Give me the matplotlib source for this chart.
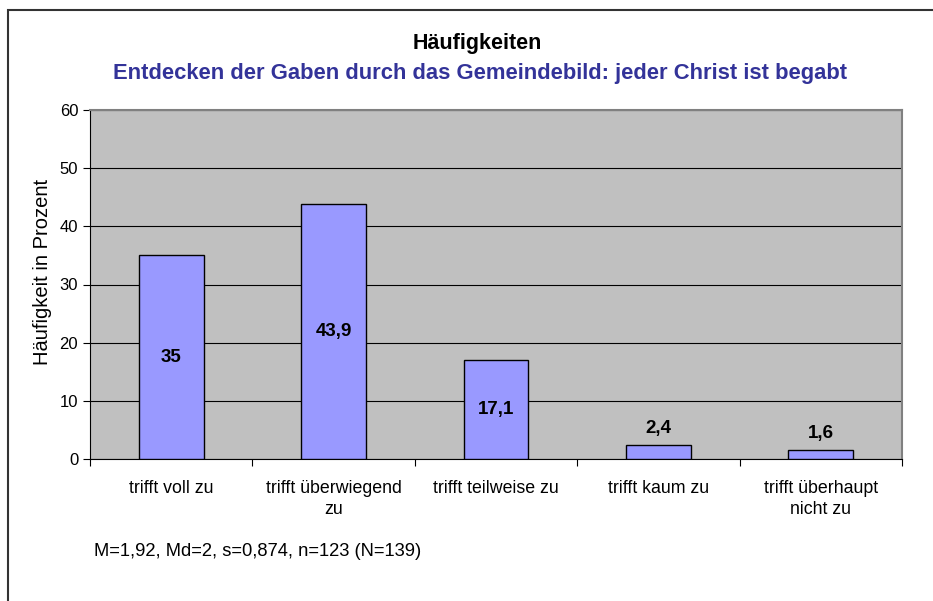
import matplotlib.pyplot as plt
from matplotlib.patches import Rectangle

plt.rcParams['font.family'] = ['Liberation Sans', 'DejaVu Sans']

# data
kategorien = ['trifft voll zu', 'trifft überwiegend\nzu', 'trifft teilweise zu',
              'trifft kaum zu', 'trifft überhaupt\nnicht zu']
prozent = [35, 43.9, 17.1, 2.4, 1.6]
beschriftung = ['35', '43,9', '17,1', '2,4', '1,6']
yticks = [0, 10, 20, 30, 40, 50, 60]

fig = plt.figure(figsize=(9.33, 6.01), dpi=100)
# outer frame of the chart
fig.patches.append(Rectangle((8 / 933, -0.05), 1.2, 0.05 + (601 - 10) / 601,
                             transform=fig.transFigure, fill=False,
                             edgecolor='#333333', linewidth=1.5))

ax = fig.add_axes([90 / 933, (601 - 459) / 601, 812 / 933, 349 / 601])
ax.set_facecolor('#c0c0c0')
x = list(range(len(prozent)))
ax.bar(x, prozent, width=0.4, color='#9999ff', edgecolor='black', linewidth=1, zorder=3)
ax.set_xlim(-0.5, len(prozent) - 0.5)
ax.set_ylim(0, 60)
ax.set_yticks(yticks)
ax.yaxis.grid(True, color='black', linewidth=0.8, zorder=0)
ax.set_axisbelow(True)

# value labels
for xi, v, t in zip(x, prozent, beschriftung):
    if v > 10:
        ax.text(xi, v / 2, t, ha='center', va='center', fontsize=13.5, fontweight='bold', zorder=4)
    else:
        ax.text(xi, v + 1.4, t, ha='center', va='bottom', fontsize=13.5, fontweight='bold', zorder=4)

ax.set_xticks([i + 0.5 for i in x[:-1]] + [-0.5, len(x) - 0.5])
ax.set_xticklabels([])
ax.set_xticks(x, minor=True)
ax.set_xticklabels(kategorien, minor=True, fontsize=12.8, linespacing=1.35)
ax.tick_params(axis='x', which='minor', length=0, pad=15)
ax.tick_params(axis='x', which='major', length=5, direction='out')
ax.tick_params(axis='y', length=5, labelsize=12)
for sp in ['top', 'right']:
    ax.spines[sp].set_color('#808080')
    ax.spines[sp].set_linewidth(1.5)
ax.spines['left'].set_color('black')
ax.spines['bottom'].set_color('black')

ax.set_ylabel('Häufigkeit in Prozent', fontsize=14.5)
ax.yaxis.set_label_coords(-0.047, 0.535)

fig.text(477 / 933, 1 - 44 / 601, 'Häufigkeiten', ha='center', va='center',
         fontsize=15.5, fontweight='bold')
fig.text(480 / 933, 1 - 74 / 601, 'Entdecken der Gaben durch das Gemeindebild: jeder Christ ist begabt',
         ha='center', va='center', fontsize=15.8, fontweight='bold', color='#333399')
fig.text(94 / 933, 1 - 552 / 601, 'M=1,92, Md=2, s=0,874, n=123 (N=139)',
         ha='left', va='center', fontsize=13.2)

plt.savefig('out.png', dpi=100)
plt.close()
